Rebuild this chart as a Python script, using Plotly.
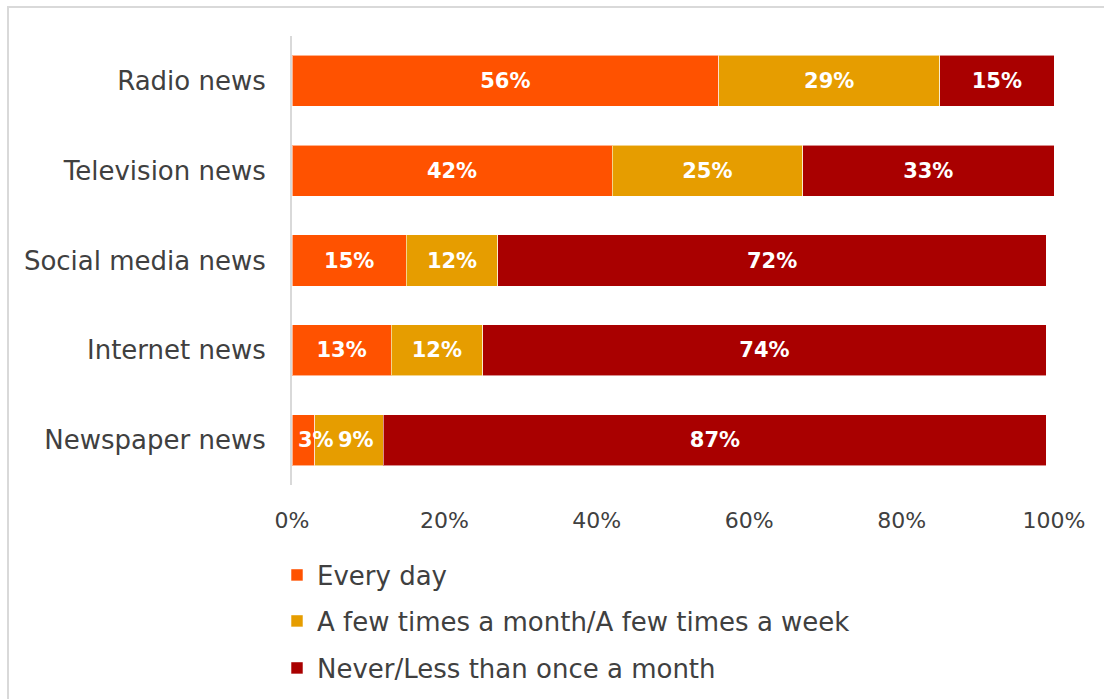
import plotly.graph_objects as go

# Survey: how often people get news from each source (share of respondents, %)
categories = ["Radio news", "Television news", "Social media news", "Internet news", "Newspaper news"]
series_names = ["Every day", "A few times a month/A few times a week", "Never/Less than once a month"]
every_day = [56, 42, 15, 13, 3]
few_times = [29, 25, 12, 12, 9]
never_less = [15, 33, 72, 74, 87]
tick_values = [0, 20, 40, 60, 80, 100]
tick_labels = ["0%", "20%", "40%", "60%", "80%", "100%"]

colors = ["#FF5200", "#E69D00", "#A90000"]
FONT = "DejaVu Sans"
TEXT_COLOR = "#404040"
LABEL_FONT = dict(family=FONT, size=21, color="white", weight="bold")
NARROW = 5  # a first segment below this share is too narrow for a centred label

W, H = 1104, 699
ML, MR, MT, MB = 292, 50, 36, 214
PW, PH = W - ML - MR, H - MT - MB

# rows whose first segment is too narrow get their first two labels placed by hand
crowded = [v < NARROW for v in every_day]

fig = go.Figure()
legend_ids = ["legend", "legend2", "legend3"]
series_vals = [every_day, few_times, never_less]
for idx, (name, vals, col, lg) in enumerate(zip(series_names, series_vals, colors, legend_ids)):
    labels = [
        "" if (crowded[i] and idx < 2) else f"{v}%"
        for i, v in enumerate(vals)
    ]
    fig.add_trace(go.Bar(
        y=categories, x=vals, name=name, orientation="h",
        marker=dict(color=col, line=dict(color="rgba(255,255,255,0.55)", width=1)),
        text=labels, textposition="inside", insidetextanchor="middle",
        textangle=0, constraintext="none", cliponaxis=False,
        textfont=LABEL_FONT,
        legend=lg, hoverinfo="skip",
    ))

annotations = []
for i, cat in enumerate(categories):
    if not crowded[i]:
        continue
    # first label starts just right of the axis
    annotations.append(dict(
        x=0, y=cat, xref="x", yref="y", text=f"{every_day[i]}%", showarrow=False,
        xanchor="left", yanchor="middle", xshift=4, font=LABEL_FONT,
    ))
    # second label is pushed to the right end of its own segment
    annotations.append(dict(
        x=every_day[i] + few_times[i], y=cat, xref="x", yref="y",
        text=f"{few_times[i]}%", showarrow=False,
        xanchor="right", yanchor="middle", xshift=-7, font=LABEL_FONT,
    ))

def px_to_paper_x(p):
    return (p - ML) / PW

def px_to_paper_y(p):
    return (MT + PH - p) / PH

legend_common = dict(
    xanchor="left", yanchor="middle", bgcolor="rgba(0,0,0,0)",
    font=dict(family=FONT, size=26, color=TEXT_COLOR),
    itemclick=False, itemdoubleclick=False,
)
legend_rows = [575, 621, 668]
layout_legends = {}
for lg, yp in zip(legend_ids, legend_rows):
    layout_legends[lg] = dict(x=px_to_paper_x(277), y=px_to_paper_y(yp), **legend_common)

fig.update_layout(
    width=W, height=H,
    margin=dict(l=ML, r=MR, t=MT, b=MB, pad=0, autoexpand=False),
    barmode="stack", bargap=0.43,
    paper_bgcolor="white", plot_bgcolor="white",
    showlegend=True,
    font=dict(family=FONT, color=TEXT_COLOR),
    xaxis=dict(
        range=[0, 100], tickvals=tick_values, ticktext=tick_labels,
        showgrid=False, zeroline=False, showline=False,
        ticks="", ticklabelstandoff=20,
        tickfont=dict(family=FONT, size=22, color=TEXT_COLOR),
    ),
    yaxis=dict(
        categoryorder="array", categoryarray=categories[::-1],
        showgrid=False, zeroline=False,
        showline=True, linecolor="#D9D9D9", linewidth=2,
        ticks="", ticklabelstandoff=19,
        tickfont=dict(family=FONT, size=26, color=TEXT_COLOR),
    ),
    annotations=annotations,
    shapes=[dict(
        type="rect", xref="paper", yref="paper",
        x0=px_to_paper_x(8), x1=px_to_paper_x(W + 10),
        y0=px_to_paper_y(H + 10), y1=px_to_paper_y(7),
        line=dict(color="#D9D9D9", width=2), fillcolor="rgba(0,0,0,0)", layer="below",
    )],
    **layout_legends,
)

fig.write_html("out.html")
